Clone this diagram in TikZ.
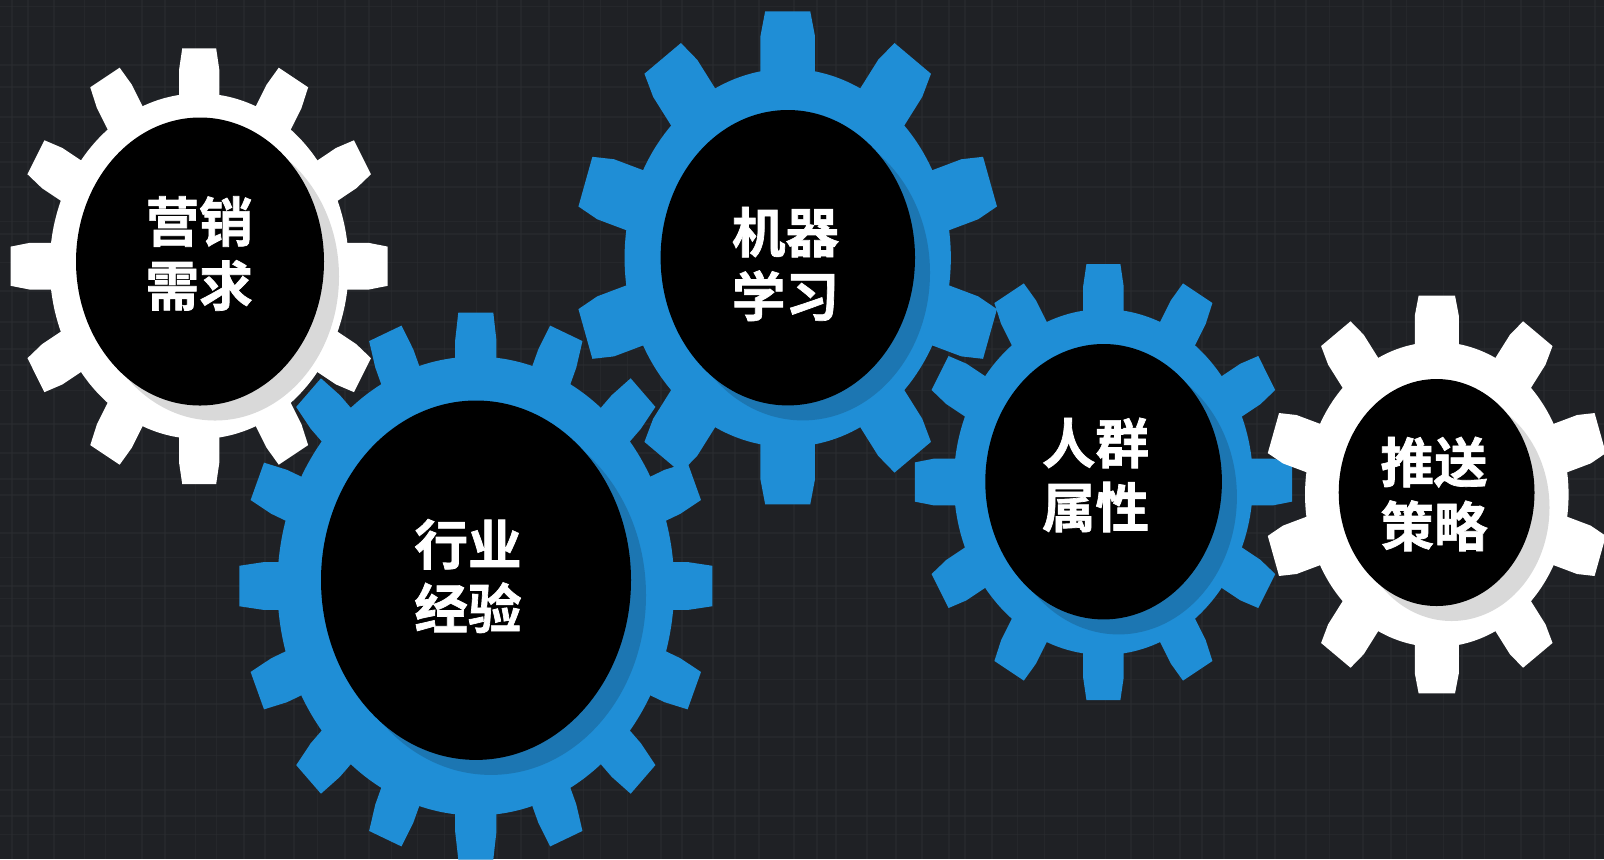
\documentclass[tikz,border=0pt]{standalone}
\usepackage{fontspec}
\newfontfamily\cjkb{Noto Sans CJK SC Bold}[FakeBold=1.3]
\definecolor{bgcol}{HTML}{1F2125}
\definecolor{gridcol}{HTML}{2C2E31}
\definecolor{gearblue}{HTML}{1F8ED6}
\definecolor{shadeblue}{HTML}{1C76B2}
\definecolor{shadegrey}{HTML}{D9D9D9}
\tikzset{
  px/.style={x=0.5pt,y=-0.5pt},
  gridline/.style={gridcol,line width=0.8pt,opacity=.5},
  gearlabel/.style={text=white,align=center,inner sep=0pt,font=\fontsize{26.8}{32}\cjkb},
}
% #1 cx, #2 cy, #3 rx, #4 ry, #5 teeth, #6 body ratio, #7 root half, #8 tip half, #9 fill
\newcommand{\gearbody}[9]{%
  \begin{scope}[shift={(#1,#2)},xscale=#3,yscale=#4,x=0.5pt,y=-0.5pt]
    \fill[#9] (0,0) ellipse [x radius=#6,y radius=#6];
    \foreach \k in {1,...,#5}{
      \fill[#9,rotate=\k*360/#5]
        (-#7,0.6) -- (-#7,0.9) -- (-#8,1) -- (#8,1) -- (#7,0.9) -- (#7,0.6) -- cycle;
    }
  \end{scope}}
\newcommand{\gearhub}[5]{% cx cy rx ry shade
  \fill[#5] (#1+15,#2+15) ellipse [x radius=#3,y radius=#4];
  \fill[black] (#1,#2) ellipse [x radius=#3,y radius=#4];}
\begin{document}
\begin{tikzpicture}[px]
\useasboundingbox (0,0) rectangle (1604,859);
\fill[bgcol] (0,0) rectangle (1604,859);
\pgfmathsetseed{7}
\foreach \i in {0,...,62}{
  \pgfmathsetmacro{\gx}{\i*26+rnd*14}
  \draw[gridline] (\gx,0) -- (\gx,859);}
\foreach \i in {0,...,33}{
  \pgfmathsetmacro{\gy}{\i*26+rnd*14}
  \draw[gridline] (0,\gy) -- (1604,\gy);}
\gearbody{199.2}{266.2}{188.5}{217.9}{12}{.793}{.107}{.09}{white}
\gearhub{200}{261.5}{124}{144}{shadegrey}
\node[gearlabel] (g1) at (199.2,253.5) {营销\\需求};
\gearbody{475.8}{586}{236.5}{273.5}{16}{.839}{.087}{.074}{gearblue}
\gearhub{476}{580.2}{155}{179.7}{shadeblue}
\node[gearlabel] (g2) at (468,576) {行业\\经验};
\gearbody{787.7}{257.8}{212.7}{246.5}{10}{.767}{.128}{.106}{gearblue}
\gearhub{787.8}{257.7}{127.2}{147.7}{shadeblue}
\node[gearlabel] (g3) at (785.5,264) {机器\\学习};
\gearbody{1103.4}{482}{188.6}{218}{12}{.793}{.107}{.09}{gearblue}
\gearhub{1103.6}{481.7}{118.3}{137.7}{shadeblue}
\node[gearlabel] (g4) at (1095.5,475) {人群\\属性};
\gearbody{1436.8}{494.5}{171.8}{198.8}{10}{.767}{.128}{.106}{white}
\gearhub{1436.6}{492.5}{97.9}{113.5}{shadegrey}
\node[gearlabel] (g5) at (1434,494) {推送\\策略};
\end{tikzpicture}
\end{document}
